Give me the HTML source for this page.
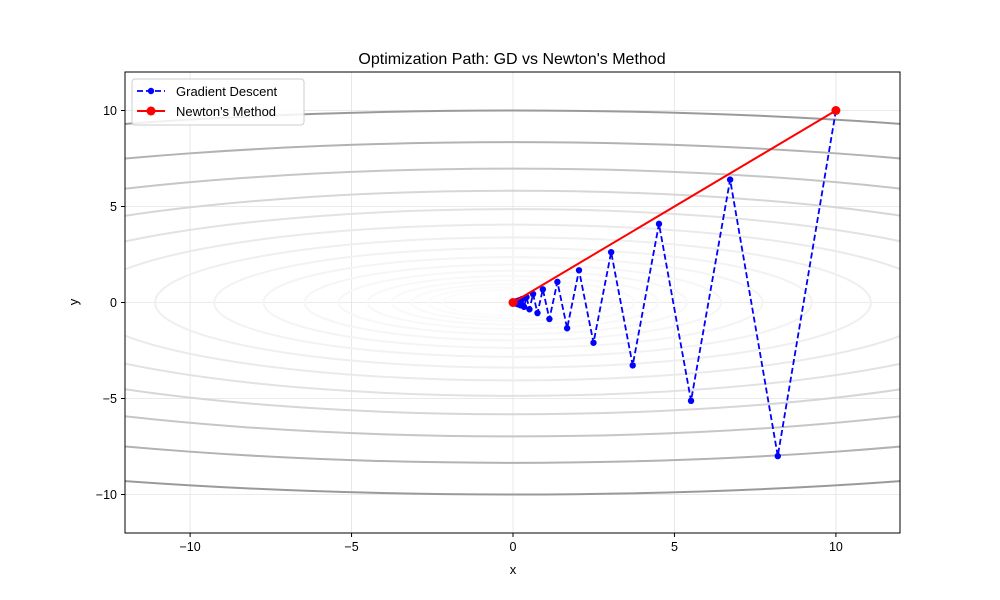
<!DOCTYPE html>
<html><head><meta charset="utf-8"><style>
body{margin:0;background:#fff;}
svg{display:block;font-family:"Liberation Sans","DejaVu Sans",sans-serif;}
</style></head><body>
<svg id="s" width="1000" height="600" xmlns="http://www.w3.org/2000/svg">
<rect width="1000" height="600" fill="#fff"/>
<defs><clipPath id="c"><rect x="125" y="72" width="775" height="461"/></clipPath></defs>
<g id="grid" stroke="#e3e3e3" stroke-width="0.8"></g>
<g id="cont" clip-path="url(#c)" fill="none" stroke-width="2"></g>
<g id="paths" clip-path="url(#c)"></g>
<rect x="125" y="72" width="775" height="461" fill="none" stroke="#000" stroke-width="1"/>
<g id="ticks" font-size="12.5" fill="#000"></g>
<text x="512" y="64" text-anchor="middle" font-size="16">Optimization Path: GD vs Newton's Method</text>
<text x="513" y="574" text-anchor="middle" font-size="13">x</text>
<text x="78" y="302" text-anchor="middle" font-size="13" transform="rotate(-90 78 302)">y</text>
<g>
<rect x="132" y="79" width="172" height="46" rx="3" fill="#fff" fill-opacity="0.85" stroke="#ccc"/>
<line x1="137" y1="91" x2="165" y2="91" stroke="#00f" stroke-width="1.8" stroke-dasharray="6,3"/>
<circle cx="151" cy="91" r="3.2" fill="#00f"/>
<text x="176" y="96" font-size="13">Gradient Descent</text>
<line x1="137" y1="111" x2="165" y2="111" stroke="#f00" stroke-width="2"/>
<circle cx="151" cy="111" r="4.5" fill="#f00"/>
<text x="176" y="116" font-size="13">Newton's Method</text>
</g>
</svg>
<script>
const NS="http://www.w3.org/2000/svg";
const X=x=>513+x*32.29, Y=y=>302.5-y*19.2;
function el(p,t,a,txt){const e=document.createElementNS(NS,t);for(const k in a)e.setAttribute(k,a[k]);if(txt!=null)e.textContent=txt;document.getElementById(p).appendChild(e);return e;}
for(const v of [-10,-5,0,5,10]){
 el("grid","line",{x1:X(v),x2:X(v),y1:72,y2:533});
 el("grid","line",{x1:125,x2:900,y1:Y(v),y2:Y(v)});
 el("ticks","line",{x1:X(v),x2:X(v),y1:533,y2:537,stroke:"#000"});
 el("ticks","line",{x1:121,x2:125,y1:Y(v),y2:Y(v),stroke:"#000"});
 const lab=v<0?"\u2212"+(-v):""+v;
 el("ticks","text",{x:X(v),y:551,"text-anchor":"middle"},lab);
 el("ticks","text",{x:117,y:Y(v)+4.5,"text-anchor":"end"},lab);
}
const greys=[154,178,198,214,226,234,239,242,244,246,247,248,249,250,251,252];
for(let k=0;k<16;k++){
 const r=10*Math.pow(0.835,k);
 const g=greys[k];
 el("cont","ellipse",{cx:X(0),cy:Y(0),rx:r*3.27*32.29,ry:r*19.2,stroke:`rgb(${g},${g},${g})`});
}
let pts=[];for(let k=0;k<45;k++)pts.push([X(10*Math.pow(0.82,k)),Y(10*Math.pow(-0.8,k))]);
el("paths","polyline",{points:pts.map(p=>p.join(",")).join(" "),fill:"none",stroke:"#00f","stroke-width":1.8,"stroke-dasharray":"6,3"});
for(const p of pts)el("paths","circle",{cx:p[0],cy:p[1],r:3.2,fill:"#00f"});
el("paths","line",{x1:X(10),y1:Y(10),x2:X(0),y2:Y(0),stroke:"#f00","stroke-width":2});
el("paths","circle",{cx:X(10),cy:Y(10),r:4.5,fill:"#f00"});
el("paths","circle",{cx:X(0),cy:Y(0),r:4.5,fill:"#f00"});
</script>
</body></html>
